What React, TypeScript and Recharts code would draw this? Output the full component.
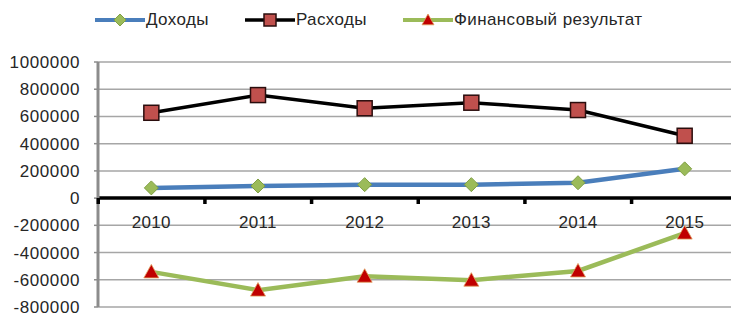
import { LineChart, Line, XAxis, YAxis, CartesianGrid, ReferenceLine } from 'recharts';

const years = ['2010', '2011', '2012', '2013', '2014', '2015'];
const income = [75000, 89000, 99000, 99000, 113000, 215000];
const expenses = [627000, 757000, 660000, 701000, 647000, 458000];
const result = [-542000, -676000, -574000, -603000, -535000, -257000];
const yTicks = [-800000, -600000, -400000, -200000, 0, 200000, 400000, 600000, 800000, 1000000];

const chartData = years.map((year, i) => ({
  year,
  income: income[i],
  expenses: expenses[i],
  result: result[i],
}));

const FONT = '"Liberation Sans", Arial, sans-serif';
const CHART_W = 738;
const AXIS_W = 98;
const HALF_BAND = (CHART_W - AXIS_W) / years.length / 2;

function Diamond({ cx, cy, r = 7 }: { cx: number; cy: number; r?: number }) {
  return (
    <polygon
      points={`${cx},${cy - r} ${cx + r},${cy} ${cx},${cy + r} ${cx - r},${cy}`}
      fill="#9bbb59"
      stroke="#80a044"
      strokeWidth={1}
    />
  );
}

function Square({ cx, cy, s = 7.5 }: { cx: number; cy: number; s?: number }) {
  return <rect x={cx - s} y={cy - s} width={s * 2} height={s * 2} fill="#c0504d" stroke="#2a0d0d" strokeWidth={1.5} />;
}

function Triangle({ cx, cy, s = 7.5 }: { cx: number; cy: number; s?: number }) {
  return (
    <polygon
      points={`${cx},${cy - s} ${cx + s},${cy + s * 0.8} ${cx - s},${cy + s * 0.8}`}
      fill="#c00000"
      stroke="#e0a060"
      strokeWidth={0.8}
    />
  );
}

const legendItems = [
  { name: 'Доходы', color: '#4a7ebb', width: 4, marker: (cx: number, cy: number) => <Diamond cx={cx} cy={cy} r={6} /> },
  { name: 'Расходы', color: '#000', width: 3.5, marker: (cx: number, cy: number) => <Square cx={cx} cy={cy} s={6} /> },
  { name: 'Финансовый результат', color: '#9bbb59', width: 4, marker: (cx: number, cy: number) => <Triangle cx={cx} cy={cy} s={6} /> },
];

function YearTick(props: any) {
  const { x, y, payload } = props;
  const zeroY = y - 109;
  return (
    <g>
      <rect x={x - HALF_BAND - 1.5} y={zeroY} width={3.5} height={6} fill="#000" />
      <text x={x} y={zeroY + 30} textAnchor="middle" fill="#262626" fontSize={17} fontFamily={FONT} letterSpacing={0.3}>
        {payload.value}
      </text>
    </g>
  );
}

export default function App() {
  return (
    <div style={{ position: 'fixed', top: 0, left: 0, width: 731, height: 316, overflow: 'hidden', background: '#fff' }}>
      <div
        style={{
          position: 'absolute',
          top: 9,
          left: 95,
          display: 'flex',
          gap: 36,
          alignItems: 'center',
          fontFamily: FONT,
          fontSize: 17,
          letterSpacing: 0.4,
          color: '#262626',
        }}
      >
        {legendItems.map((item) => (
          <div key={item.name} style={{ display: 'flex', alignItems: 'center', height: 22 }}>
            <svg width={50} height={22}>
              <line x1={0} y1={11} x2={50} y2={11} stroke={item.color} strokeWidth={item.width} />
              {item.marker(25, 11)}
            </svg>
            <span style={{ marginLeft: 1 }}>{item.name}</span>
          </div>
        ))}
      </div>
      <LineChart width={CHART_W} height={316} data={chartData} margin={{ top: 62, right: 0, bottom: 8, left: 0 }}>
        <CartesianGrid vertical={false} stroke="#a6a6a6" strokeWidth={1.5} />
        <ReferenceLine y={0} stroke="#000" strokeWidth={3.5} />
        <XAxis
          dataKey="year"
          scale="band"
          height={1}
          axisLine={false}
          tickLine={false}
          tickSize={0}
          tickMargin={0}
          tick={<YearTick />}
          interval={0}
        />
        <YAxis
          width={AXIS_W}
          domain={[-800000, 1000000]}
          ticks={yTicks}
          interval={0}
          axisLine={{ stroke: '#8c8c8c', strokeWidth: 3 }}
          tickLine={{ stroke: '#8c8c8c', strokeWidth: 1.5 }}
          tickSize={4}
          tickMargin={14}
          tick={{ fill: '#262626', fontSize: 17, fontFamily: FONT, letterSpacing: 0.6 }}
        />
        <Line
          dataKey="income"
          stroke="#4a7ebb"
          strokeWidth={4.5}
          isAnimationActive={false}
          dot={(p: any) => <Diamond key={p.index} cx={p.cx} cy={p.cy} />}
        />
        <Line
          dataKey="expenses"
          stroke="#000"
          strokeWidth={3.5}
          isAnimationActive={false}
          dot={(p: any) => <Square key={p.index} cx={p.cx} cy={p.cy} />}
        />
        <Line
          dataKey="result"
          stroke="#9bbb59"
          strokeWidth={4.5}
          isAnimationActive={false}
          dot={(p: any) => <Triangle key={p.index} cx={p.cx} cy={p.cy} />}
        />
      </LineChart>
    </div>
  );
}
